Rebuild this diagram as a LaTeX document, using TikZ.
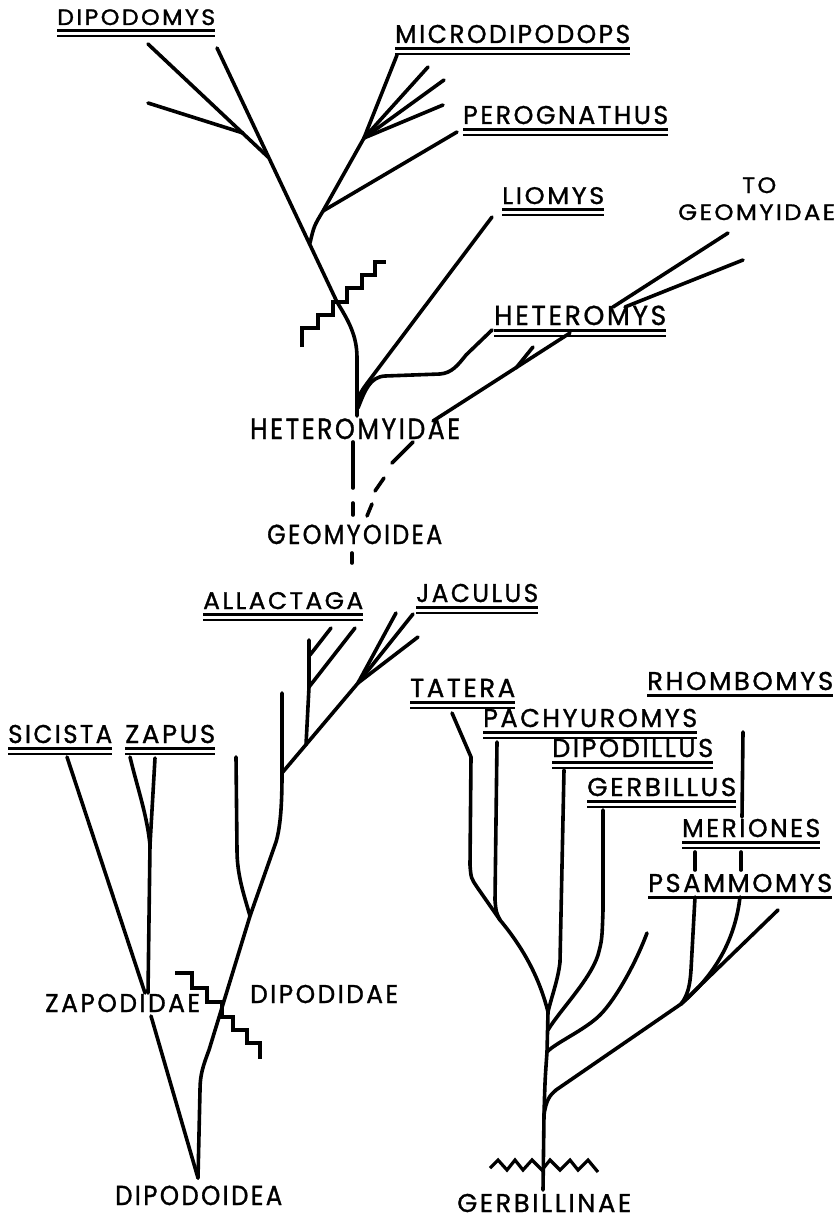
\documentclass[tikz,border=0pt]{standalone}
\usepackage{fontspec}
\usepackage{graphicx}
\newfontfamily\labfont{Poppins}[LetterSpace=10,FakeBold=1.2]
% a taxon label: name, left x, width, cap height, baseline y, text
\newcommand\taxon[6]{\node[lab] (#1) at (#2,#5) {\resizebox{#3pt}{1.21\dimexpr #4pt\relax}{#6}};}
% double rule under a genus name
\newcommand\dblul[1]{%
  \draw[ula] ([yshift=-5pt]#1.south west) -- ([yshift=-5pt]#1.south east);
  \draw[ulb] ([yshift=-10.5pt]#1.south west) -- ([yshift=-10.5pt]#1.south east);}
\newcommand\sglul[1]{%
  \draw[ula] ([yshift=-5pt]#1.south west) -- ([yshift=-5pt]#1.south east);}
\begin{document}
\begin{tikzpicture}[x=1pt,y=-1pt,
  br/.style={line width=3.6pt,line cap=round,line join=round},
  zig/.style={line width=3.2pt,line join=miter},
  lab/.style={inner sep=0pt,anchor=base west,font=\labfont},
  ula/.style={line width=2.7pt},
  ulb/.style={line width=2.3pt}]
\useasboundingbox (0,0) rectangle (840,1220);

% ---------------- labels ----------------
\taxon{dipodomys}{57}{158}{13}{25}{DIPODOMYS}
\taxon{microdipodops}{395}{235}{15}{43}{MICRODIPODOPS}
\taxon{perognathus}{463}{205}{15}{124}{PEROGNATHUS}
\taxon{liomys}{502}{102}{14}{204}{LIOMYS}
\taxon{to}{742}{34}{13}{193}{TO}
\taxon{geomyidae}{678}{157}{13}{220}{GEOMYIDAE}
\taxon{heteromys}{494}{172}{16}{325}{HETEROMYS}
\taxon{heteromyidae}{250}{210}{17}{439}{HETEROMYIDAE}
\taxon{geomyoidea}{267}{175}{16}{544}{GEOMYOIDEA}
\taxon{allactaga}{203}{160}{14}{609}{ALLACTAGA}
\taxon{jaculus}{416}{122}{15}{602}{JACULUS}
\taxon{sicista}{8}{104}{15}{743}{SICISTA}
\taxon{zapus}{125}{90}{15}{743}{ZAPUS}
\taxon{tatera}{410}{105}{15}{697}{TATERA}
\taxon{pachyuromys}{483}{214}{15}{727}{PACHYUROMYS}
\taxon{dipodillus}{552}{161}{15}{757}{DIPODILLUS}
\taxon{gerbillus}{587}{149}{15}{796}{GERBILLUS}
\taxon{rhombomys}{647}{186}{15}{690}{RHOMBOMYS}
\taxon{meriones}{682}{138}{15}{837}{MERIONES}
\taxon{psammomys}{648}{184}{15}{892}{PSAMMOMYS}
\taxon{zapodidae}{45}{155}{15}{1012}{ZAPODIDAE}
\taxon{dipodidae}{250}{148}{15}{1003}{DIPODIDAE}
\taxon{dipodoidea}{115}{167}{16}{1205}{DIPODOIDEA}
\taxon{gerbillinae}{457}{174}{15}{1212}{GERBILLINAE}

\foreach \n in {dipodomys,microdipodops,perognathus,liomys,heteromys,
  allactaga,jaculus,sicista,zapus,tatera,pachyuromys,dipodillus,
  gerbillus,meriones}{\dblul{\n}}
\sglul{rhombomys}
\sglul{psammomys}

% ---------------- Heteromyidae ----------------
\coordinate (hbase) at (357,416);
\coordinate (hbend) at (357,358);
\coordinate (hcross) at (337,302);
\coordinate (hstem) at (310,243);
\coordinate (dfork) at (268,157);
\coordinate (dtipB) at (217,48);
\coordinate (dtipA) at (148,44);
\coordinate (dtipC) at (148,103);
\coordinate (djoinC) at (243,133);
\coordinate (mfork) at (323,211);
\coordinate (mfan) at (364,138);
\coordinate (ptip) at (457,132);
\coordinate (ltip) at (492,217);
\coordinate (htip) at (492,330);

\draw[br] (hbase) -- (hbend) .. controls (357,335) and (348,320) .. (hcross) -- (dtipB);
\draw[br] (dfork) -- (dtipA);
\draw[br] (djoinC) -- (dtipC);
\draw[br] (hstem) .. controls (314,226) .. (mfork) -- (mfan);
\draw[br] (mfork) -- (ptip);
\foreach \p in {(397,55),(428,67),(444,80),(443,105)} \draw[br] (mfan) -- \p;
\draw[br] (357,405) .. controls (360,393) .. (368,382) -- (ltip);
\draw[br] (358,408) .. controls (365,390) and (370,377) .. (385,376)
  -- (440,374) .. controls (452,373) and (458,365) .. (466,355) -- (htip);

% line toward the Geomyidae
\coordinate (gtop) at (570,333);
\coordinate (glow) at (433,421);
\draw[br] (gtop) -- (glow);
\draw[br] (533,347) -- (516,368);
\draw[br] (413,442) -- (392,463);
\draw[br] (384,478) -- (375,491);
\draw[br] (372,504) -- (367,516);
\coordinate (tga) at (728,233);
\coordinate (tgb) at (743,260);
\draw[br] (tga) -- (613,307);
\draw[br] (tgb) -- (625,307);

% stem below Heteromyidae
\draw[br] (353,442) -- (353,488);
\draw[br] (353,503) -- (353,515);
\draw[br] (352,553) -- (352,563);

% staircase across the heteromyid stem
\draw[zig] (302,347) -- (302,328) -- (318,328) -- (318,315) -- (333,315)
  -- (333,302) -- (347,302) -- (347,288) -- (362,288) -- (362,275)
  -- (375,275) -- (375,262) -- (386,262);

% ---------------- Dipodoidea ----------------
\coordinate (droot) at (198,1178);
\coordinate (zjoin) at (148,993);
\coordinate (sictip) at (67,757);
\coordinate (zaptipA) at (130,757);
\coordinate (zaptipB) at (155,758);
\coordinate (zapfork) at (150,845);
\draw[br] (sictip) -- (145,993);
\draw[br] (zaptipA) .. controls (138,790) and (147,815) .. (zapfork);
\draw[br] (zaptipB) -- (zapfork) -- (zjoin);
\draw[br] (151,1016) -- (droot);

\coordinate (dpfork) at (250,916);
\coordinate (dpmid) at (282,773);
\coordinate (jfan) at (358,683);
\draw[br] (droot) -- (200,1090) .. controls (200,1075) and (203,1066) .. (209,1050) -- (dpfork)
  -- (276,842) .. controls (281,825) and (282,800) .. (dpmid) -- (282,693);
\draw[br] (dpfork) .. controls (244,895) and (237,875) .. (237,850) -- (236,757);
\draw[br] (dpmid) -- (jfan);
\foreach \p in {(396,613),(413,614),(418,637)} \draw[br] (jfan) -- \p;
\coordinate (abase) at (306,745);
\coordinate (afork) at (309,687);
\draw[br] (abase) -- (afork) -- (309,640);
\draw[br] (afork) -- (355,628);
\draw[br] (310,655) -- (331,628);

% staircase across the dipodid stem
\draw[zig] (175,973) -- (192,973) -- (192,988) -- (207,988) -- (207,1002)
  -- (222,1002) -- (222,1017) -- (233,1017) -- (233,1030) -- (247,1030)
  -- (247,1043) -- (260,1043) -- (260,1059);

% ---------------- Gerbillinae ----------------
\coordinate (groot) at (543,1190);
\coordinate (gb1) at (544,1115);
\coordinate (gb2) at (547,1052);
\coordinate (gb3) at (548,1030);
\coordinate (gb4) at (548,1012);
\coordinate (pfan) at (681,1004);
\coordinate (tpjoin) at (500,920);
\draw[br] (groot) -- (gb1) .. controls (545,1080) .. (gb2) -- (gb4);
\draw[br] (gb1) .. controls (546,1100) and (550,1095) .. (556,1090) -- (pfan);
\draw[br] (pfan) .. controls (688,995) and (690,985) .. (691,970) -- (695,897);
\draw[br] (pfan) .. controls (715,975) and (735,940) .. (740,897);
\draw[br] (pfan) -- (778,910);
\draw[br] (695,852) -- (695,870);
\draw[br] (741,852) -- (741,870);
\draw[br] (743,732) -- (742,817);
\draw[br] (gb2) .. controls (555,1043) and (585,1030) .. (600,1015)
  .. controls (615,1000) and (635,965) .. (647,933);
\draw[br] (gb3) .. controls (560,1010) and (590,980) .. (598,955)
  .. controls (602,940) .. (603,910) -- (603,810);
\draw[br] (gb4) .. controls (552,995) and (558,980) .. (560,962) -- (564,770);
\draw[br] (gb4) .. controls (540,980) and (525,950) .. (tpjoin);
\draw[br] (tpjoin) .. controls (496,912) .. (495,900) -- (497,742);
\draw[br] (tpjoin) -- (477,887) .. controls (471,878) .. (470,865) -- (471,757) -- (452,713);

% wavy base line
\draw[zig] (490,1168) -- (498,1160) -- (507,1170) -- (515,1160) -- (523,1170)
  -- (532,1160) -- (542,1170) -- (550,1160) -- (560,1170) -- (570,1160)
  -- (578,1170) -- (588,1160) -- (598,1172);
\end{tikzpicture}
\end{document}
